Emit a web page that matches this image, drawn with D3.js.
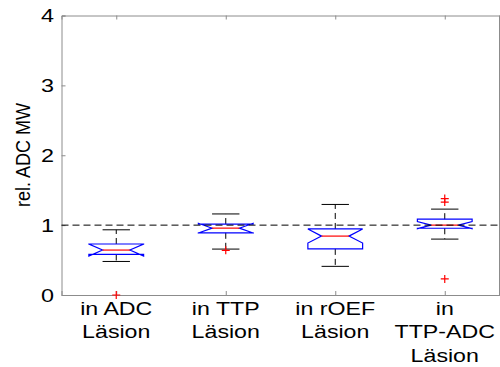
<!DOCTYPE html>
<html>
<head>
<meta charset="utf-8">
<script src="https://cdn.jsdelivr.net/npm/d3@7"></script>
<style>
  html, body { margin: 0; padding: 0; background: #fff; }
  text { font-family: "Liberation Sans", Arial, sans-serif; fill: #000; }
</style>
</head>
<body>
<div id="chart"></div>
<script>
// box plot values
const categories = [["in ADC", "Läsion"], ["in TTP", "Läsion"], ["in rOEF", "Läsion"], ["in", "TTP-ADC", "Läsion"]];
const q1 = [0.58, 0.89, 0.66, 0.955];
const median = [0.643, 0.957, 0.843, 1.0];
const q3 = [0.73, 1.015, 0.945, 1.085];
const notchLo = [0.557, 0.887, 0.743, 0.95];
const notchHi = [0.729, 1.027, 0.945, 1.05];
const whiskerLo = [0.48, 0.657, 0.41, 0.80];
const whiskerHi = [0.933, 1.16, 1.296, 1.229];
const outliers = [[0.0], [0.64], [], [1.38, 1.33, 0.23]];
const yTicks = [0, 1, 2, 3, 4];
const refLine = 1;

const width = 500, height = 367;
const margin = { top: 15.5, right: 0.5, bottom: 72, left: 61.5 };
const axisColor = '#8c8c8c';

const svg = d3.select('#chart').append('svg')
  .attr('width', width)
  .attr('height', height);

const x = d3.scaleLinear().domain([0.5, 4.5]).range([margin.left, width - margin.right]);
const y = d3.scaleLinear().domain([0, 4]).range([height - margin.bottom, margin.top]);

const boxW = 0.25, notchW = 0.125, capW = 0.125;

// axes frame
svg.append('g')
  .attr('transform', `translate(${margin.left},0)`)
  .call(d3.axisLeft(y).tickValues(yTicks).tickSize(-4).tickFormat(''))
  .call(g => g.selectAll('line, path').attr('stroke', axisColor));
svg.append('g')
  .attr('transform', `translate(0,${y(0)})`)
  .call(d3.axisBottom(x).tickValues([1, 2, 3, 4]).tickSize(-4).tickFormat(''))
  .call(g => g.selectAll('line, path').attr('stroke', axisColor));
svg.append('g')
  .attr('transform', `translate(0,${y(4)})`)
  .call(d3.axisTop(x).tickValues([1, 2, 3, 4]).tickSize(-4).tickFormat(''))
  .call(g => g.selectAll('line, path').attr('stroke', axisColor));
svg.append('line')
  .attr('x1', x(4.5)).attr('x2', x(4.5))
  .attr('y1', y(0)).attr('y2', y(4))
  .attr('stroke', axisColor);

// y tick labels
svg.append('g').selectAll('text')
  .data(yTicks)
  .join('text')
  .attr('transform', d => `translate(54,${y(d) + 6.5}) scale(1.3,1)`)
  .attr('text-anchor', 'end')
  .attr('font-size', 18)
  .text(d => d);

// y label
svg.append('text')
  .attr('transform', `translate(30,155) rotate(-90) scale(1,1.15)`)
  .attr('text-anchor', 'middle')
  .attr('font-size', 18)
  .text('rel. ADC MW');

// category labels
const cat = svg.append('g').selectAll('g')
  .data(categories)
  .join('g')
  .attr('transform', (d, i) => `translate(${x(i + 1)},315) scale(1.22,1)`);
cat.selectAll('text')
  .data(d => d)
  .join('text')
  .attr('y', (d, j) => j * 23.5)
  .attr('text-anchor', 'middle')
  .attr('font-size', 19)
  .text(d => d);

// boxes
const idx = d3.range(categories.length);
const boxes = svg.append('g');

// whiskers (dashed)
boxes.selectAll('.wup')
  .data(idx).join('line')
  .attr('x1', i => x(i + 1)).attr('x2', i => x(i + 1))
  .attr('y1', i => y(q3[i])).attr('y2', i => y(whiskerHi[i]))
  .attr('stroke', '#000').attr('stroke-dasharray', '6,4');
boxes.selectAll('.wlo')
  .data(idx).join('line')
  .attr('x1', i => x(i + 1)).attr('x2', i => x(i + 1))
  .attr('y1', i => y(q1[i])).attr('y2', i => y(whiskerLo[i]))
  .attr('stroke', '#000').attr('stroke-dasharray', '6,4');

// caps
[whiskerHi, whiskerLo].forEach(arr => {
  boxes.append('g').selectAll('line')
    .data(idx).join('line')
    .attr('x1', i => x(i + 1 - capW)).attr('x2', i => x(i + 1 + capW))
    .attr('y1', i => y(arr[i])).attr('y2', i => y(arr[i]))
    .attr('stroke', '#000');
});

// notched box outline
boxes.append('g').selectAll('path')
  .data(idx).join('path')
  .attr('d', i => {
    const c = i + 1;
    const pts = [
      [c - boxW, q1[i]], [c - boxW, notchLo[i]], [c - notchW, median[i]],
      [c - boxW, notchHi[i]], [c - boxW, q3[i]], [c + boxW, q3[i]],
      [c + boxW, notchHi[i]], [c + notchW, median[i]], [c + boxW, notchLo[i]],
      [c + boxW, q1[i]]
    ];
    return d3.line().x(p => x(p[0])).y(p => y(p[1]))(pts) + 'Z';
  })
  .attr('fill', 'none')
  .attr('stroke', '#0000ff')
  .attr('stroke-width', 1.2);

// medians
boxes.append('g').selectAll('line')
  .data(idx).join('line')
  .attr('x1', i => x(i + 1 - notchW)).attr('x2', i => x(i + 1 + notchW))
  .attr('y1', i => y(median[i])).attr('y2', i => y(median[i]))
  .attr('stroke', '#ff0000')
  .attr('stroke-width', 1.2);

// outliers
const outPts = outliers.flatMap((arr, i) => arr.map(v => ({ c: i + 1, v })));
boxes.append('g').selectAll('path')
  .data(outPts).join('path')
  .attr('d', d => {
    const px = x(d.c), py = y(d.v);
    return `M${px - 4},${py}H${px + 4}M${px},${py - 4}V${py + 4}`;
  })
  .attr('stroke', '#ff0000')
  .attr('stroke-width', 1.2);

// reference line at 1
svg.append('line')
  .attr('x1', x(0.5)).attr('x2', x(4.5))
  .attr('y1', y(refLine)).attr('y2', y(refLine))
  .attr('stroke', '#000')
  .attr('stroke-dasharray', '7,4');
</script>
</body>
</html>
